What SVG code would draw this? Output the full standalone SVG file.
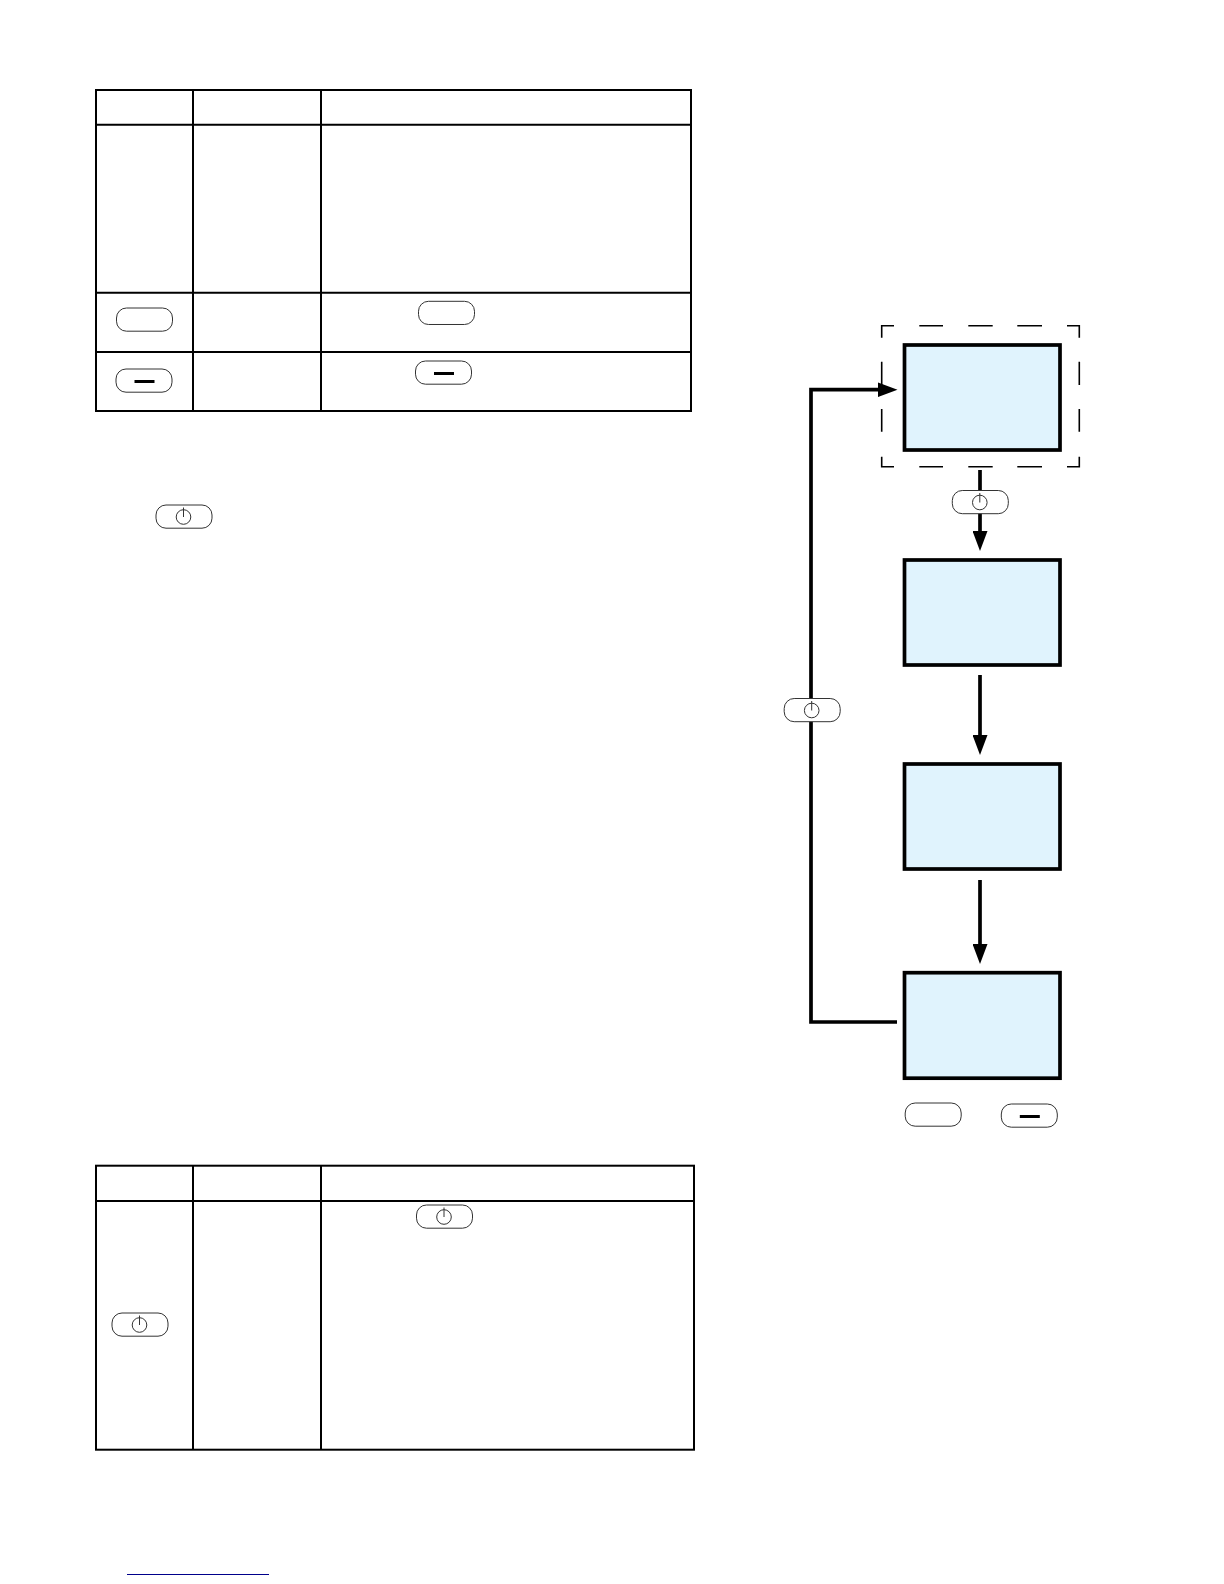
<svg xmlns="http://www.w3.org/2000/svg" width="1224" height="1584" viewBox="0 0 1224 1584">
<style>
.tb{fill:none;stroke:#000;stroke-width:2}
.box{fill:#e0f3fd;stroke:#000;stroke-width:3.7}
.btn{fill:#fff;stroke:#333;stroke-width:1}
.pw{fill:none;stroke:#333;stroke-width:1}
.minus{stroke:#000;stroke-width:3}
.conn{fill:none;stroke:#000;stroke-width:3.7}
.dash{fill:none;stroke:#000;stroke-width:1.6}
</style>
<defs>
<marker id="ah" markerUnits="userSpaceOnUse" markerWidth="20" markerHeight="15" refX="0.500" refY="7.500" orient="auto"><path d="M0 0L20 7.500L0 15Z" fill="#000"/></marker>
<g id="b"><rect class="btn" x="-28" y="-11.500" width="56" height="23.200" rx="10"/></g>
<g id="bm"><use href="#b"/><line class="minus" x1="-9.500" y1="1" x2="10.500" y2="1"/></g>
<g id="bp"><use href="#b"/><circle class="pw" cx="-0.500" cy="0.500" r="7.300"/><line class="pw" x1="-0.500" y1="-9" x2="-0.500" y2="0.500"/></g>
</defs>
<g id="table1">
<rect class="tb" x="96" y="90" width="595" height="321"/>
<line class="tb" x1="96" y1="124.700" x2="691" y2="124.700"/>
<line class="tb" x1="96" y1="292.700" x2="691" y2="292.700"/>
<line class="tb" x1="96" y1="352" x2="691" y2="352"/>
<line class="tb" x1="193" y1="90" x2="193" y2="411"/>
<line class="tb" x1="321" y1="90" x2="321" y2="411"/>
</g>
<g id="table2">
<rect class="tb" x="96" y="1165.700" width="598" height="284"/>
<line class="tb" x1="96" y1="1201" x2="694" y2="1201"/>
<line class="tb" x1="193" y1="1165.700" x2="193" y2="1449.700"/>
<line class="tb" x1="321" y1="1165.700" x2="321" y2="1449.700"/>
</g>
<g id="table-buttons">
<use href="#b" x="144.500" y="319.500"/>
<use href="#b" x="446.500" y="312.800"/>
<use href="#bm" x="144" y="380.500"/>
<use href="#bm" x="443.500" y="372.500"/>
<use href="#bp" x="184" y="516.500"/>
<use href="#bp" x="444.500" y="1216.500"/>
<use href="#bp" x="140" y="1324.500"/>
</g>
<g id="connectors">
<line class="conn" x1="980" y1="470" x2="980" y2="531.500" marker-end="url(#ah)"/>
<line class="conn" x1="980" y1="675" x2="980" y2="735.500" marker-end="url(#ah)"/>
<line class="conn" x1="980" y1="880" x2="980" y2="944.500" marker-end="url(#ah)"/>
<path class="conn" d="M897 1022H811V389.700H878" marker-end="url(#ah)"/>
</g>
<g id="dashed"><path class="dash" d="M881.700 337.700V325.700H894M919.300 325.700H943M968.300 325.700H992.700M1017.300 325.700H1042M1067 325.700H1079.300V337.700M1079.300 361.700V385M1079.300 409V431.700M1079.300 456.700V466.700H1067M1042 466.700H1017.300M992.700 466.700H968.300M943 466.700H919.300M894 466.700H881.700V456.700M881.700 431.700V409M881.700 385V361.700"/></g>
<g id="node1"><rect class="box" x="904.500" y="345" width="155.500" height="105"/></g>
<g id="node2"><rect class="box" x="904.500" y="560" width="155.500" height="105"/></g>
<g id="node3"><rect class="box" x="904.500" y="764" width="155.500" height="105"/></g>
<g id="node4"><rect class="box" x="904.500" y="972.700" width="155.500" height="105.500"/></g>
<g id="flow-buttons">
<use href="#bp" x="980.300" y="502"/>
<use href="#bp" x="812.200" y="710"/>
<use href="#b" x="933.200" y="1114.500"/>
<use href="#bm" x="1029.300" y="1115.500"/>
</g>
<line id="link" x1="127" y1="1574.500" x2="269" y2="1574.500" stroke="#00008b" stroke-width="1"/>
</svg>
